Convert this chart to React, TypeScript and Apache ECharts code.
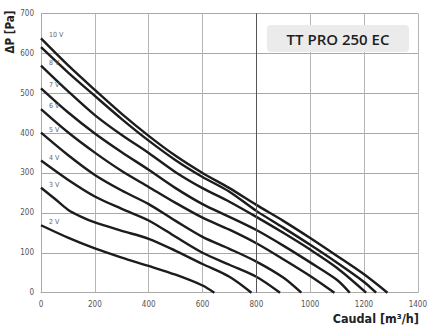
import React, { useEffect, useRef } from "react";
import * as echarts from "echarts";

const xTicks = [0, 200, 400, 600, 800, 1000, 1200, 1400];
const yTicks = [0, 100, 200, 300, 400, 500, 600, 700];
const voltages = ["2 V", "3 V", "4 V", "5 V", "6 V", "7 V", "8 V", "9 V", "10 V"];
const showLabel = [true, true, true, true, true, true, true, false, true];

const curve2V = [[0, 169], [100, 138], [200, 111], [300, 88], [400, 67], [500, 45], [600, 18], [644, 0]];
const curve3V = [[0, 263], [50, 236], [100, 208], [150, 190], [200, 176], [300, 155], [400, 135], [500, 105], [600, 72], [700, 40], [782, 0]];
const curve4V = [[0, 331], [100, 283], [200, 241], [300, 210], [400, 181], [500, 140], [600, 100], [700, 70], [800, 40], [888, 0]];
const curve5V = [[0, 401], [100, 345], [200, 295], [300, 256], [400, 222], [500, 180], [600, 140], [700, 110], [800, 78], [900, 38], [967, 0]];
const curve6V = [[0, 460], [100, 402], [200, 351], [300, 305], [400, 265], [500, 225], [600, 188], [700, 158], [800, 124], [900, 84], [1000, 42], [1090, 0]];
const curve7V = [[0, 512], [100, 452], [200, 399], [300, 352], [400, 308], [500, 262], [600, 222], [700, 190], [800, 157], [900, 118], [1000, 76], [1100, 32], [1147, 0]];
const curve8V = [[0, 569], [100, 505], [200, 445], [300, 395], [400, 350], [500, 302], [600, 262], [700, 228], [800, 190], [900, 150], [1000, 108], [1100, 62], [1208, 0]];
const curve9V = [[0, 615], [100, 552], [200, 493], [300, 435], [400, 381], [500, 332], [600, 290], [700, 253], [800, 205], [900, 163], [1000, 120], [1100, 75], [1200, 27], [1245, 0]];
const curve10V = [[0, 637], [100, 570], [200, 508], [300, 448], [400, 393], [500, 343], [600, 300], [700, 262], [800, 220], [900, 180], [1000, 137], [1100, 92], [1200, 46], [1287, 0]];

const curves = [curve2V, curve3V, curve4V, curve5V, curve6V, curve7V, curve8V, curve9V, curve10V];

const modelName = "TT PRO 250 EC";
const xTitle = "Caudal [m³/h]";
const yTitle = "ΔP [Pa]";
const markX = 800;

const NARROW = "'Liberation Sans Narrow', 'DejaVu Sans Condensed', 'Liberation Sans', sans-serif";

export default function App() {
  const ref = useRef<HTMLDivElement>(null);
  useEffect(() => {
    if (!ref.current) return;
    const chart = echarts.init(ref.current, undefined, { renderer: "svg" });
    const series: any[] = curves.map((c, i) => ({
      type: "line",
      name: voltages[i],
      smooth: 0.3,
      symbol: "circle",
      symbolSize: 0,
      showAllSymbol: true,
      lineStyle: { color: "#1c1c1c", width: 2.4 },
      itemStyle: { color: "#1c1c1c" },
      data: c.map((p, j) =>
        j === 0 && showLabel[i]
          ? {
              value: p,
              label: {
                show: true,
                formatter: voltages[i],
                position: "right",
                offset: [3, -3],
                fontSize: 7,
                color: "#666",
                fontFamily: NARROW,
              },
            }
          : { value: p }
      ),
      z: 3,
    }));
    series.push({
      type: "line",
      data: [],
      markLine: {
        silent: true,
        symbol: "none",
        label: { show: false },
        lineStyle: { color: "#555", width: 1, type: "solid" },
        data: [{ xAxis: markX }],
      },
    });
    chart.setOption({
      animation: false,
      grid: { left: 41, right: 7, top: 13.3, bottom: 36.3, containLabel: false },
      xAxis: {
        type: "value",
        min: xTicks[0],
        max: xTicks[xTicks.length - 1],
        interval: 200,
        axisLine: { show: true, lineStyle: { color: "#aaa", width: 1 } },
        axisTick: { show: false },
        axisLabel: {
          color: "#555",
          fontSize: 8,
          margin: 8,
          fontFamily: NARROW,
          formatter: (v: number) => String(v),
        },
        splitLine: { show: true, lineStyle: { color: "#b5b5b5", width: 1 } },
      },
      yAxis: {
        type: "value",
        min: yTicks[0],
        max: yTicks[yTicks.length - 1],
        interval: 100,
        axisLine: { show: true, lineStyle: { color: "#aaa", width: 1 } },
        axisTick: { show: false },
        axisLabel: {
          color: "#555",
          fontSize: 8,
          margin: 7,
          fontFamily: NARROW,
          formatter: (v: number) => String(v),
        },
        splitLine: { show: true, lineStyle: { color: "#a8a8a8", width: 1 } },
      },
      graphic: [
        {
          type: "rect",
          shape: { x: 267, y: 25, width: 142, height: 27, r: 4 },
          style: { fill: "#ebebeb" },
          z: 10,
        },
        {
          type: "text",
          x: 338,
          y: 39,
          style: {
            text: modelName,
            textAlign: "center",
            textVerticalAlign: "middle",
            font: "600 15px 'Open Sans', sans-serif",
            fill: "#1e1e1e",
          },
          z: 11,
        },
        {
          type: "text",
          x: 10,
          y: 32,
          rotation: Math.PI / 2,
          style: {
            text: yTitle,
            textAlign: "center",
            textVerticalAlign: "middle",
            font: "bold 11.5px " + NARROW,
            fill: "#222",
          },
        },
        {
          type: "text",
          x: 419,
          y: 318,
          style: {
            text: xTitle,
            textAlign: "right",
            textVerticalAlign: "middle",
            font: "bold 12.5px " + NARROW,
            fill: "#222",
          },
        },
      ],
      series,
    });
    return () => chart.dispose();
  }, []);
  return (
    <div
      ref={ref}
      style={{ position: "fixed", left: 0, top: 0, width: 430, height: 329, background: "#fff" }}
    />
  );
}
